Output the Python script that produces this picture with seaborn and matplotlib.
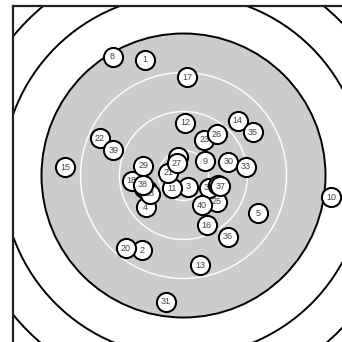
import numpy as np
import pandas as pd
import seaborn as sns
import matplotlib.pyplot as plt
from matplotlib.patches import Circle

# ring radii (same units as the shot coordinates, centre of target = 0, 0)
white_rings = [25, 64, 103]
gray_radius = 142
black_rings = [181, 220]

shot = list(range(1, 41))
shot_x = [-38.5, -41.8, 4.8, -38.0, 74.8, -40.5, -39.5, -71.0, 21.5, 147.5,
          -11.8, 1.5, 16.8, 54.2, -118.5, 23.2, 3.5, -52.0, -37.0, -57.5,
          -15.2, -83.5, 20.8, -6.0, 33.5, 33.5, -6.8, -34.0, -40.2, 44.8,
          -17.5, 25.5, 62.5, 34.5, 69.2, 44.2, 36.8, -41.0, -70.2, 18.7]
shot_y = [115.5, -74.8, -11.2, -31.7, -37.8, -10.5, -12.5, 118.8, 14.2, -21.5,
          -12.8, 52.8, -89.8, 54.8, 8.2, -49.5, 98.2, -5.0, -14.5, -72.8,
          2.8, 37.2, 35.5, 18.5, -26.2, 41.2, 12.2, -18.0, 9.5, 13.8,
          -126.2, -12.0, 8.8, -9.0, 43.2, -61.2, -10.8, -9.2, 25.2, -29.7]

df = pd.DataFrame({'shot': shot, 'x': shot_x, 'y': shot_y})

sns.set_style('white')
plt.rcParams['font.family'] = ['Liberation Sans', 'DejaVu Sans']

fig = plt.figure(figsize=(3.42, 3.42), dpi=100)
ax = fig.add_axes([13 / 342, -3 / 342, 341 / 342, 339 / 342])

# target face
for r in black_rings[::-1]:
    ax.add_patch(Circle((0, 0), r, facecolor='white', edgecolor='black', lw=1.4, zorder=1))
ax.add_patch(Circle((0, 0), gray_radius, facecolor='#cccccc', edgecolor='black', lw=1.4, zorder=1))
for r in white_rings:
    ax.add_patch(Circle((0, 0), r, facecolor='none', edgecolor='white', lw=1.0, zorder=1))

# shots, each with its label so later shots cover earlier ones
for i, row in df.iterrows():
    sns.scatterplot(x=[row['x']], y=[row['y']], s=190, color='white', edgecolor='black',
                    linewidth=1.45, ax=ax, zorder=3 + 2 * i, legend=False)
    ax.text(row['x'], row['y'], str(int(row['shot'])), ha='center', va='center',
            fontsize=6.5, color='#444444', zorder=4 + 2 * i)

ax.set_xlim(-170.5, 170.5)
ax.set_ylim(-169.5, 169.5)
ax.set_xticks([])
ax.set_yticks([])
ax.set_xlabel('')
ax.set_ylabel('')
for side in ['left', 'top']:
    ax.spines[side].set_color('#222222')
    ax.spines[side].set_linewidth(1.6)
for side in ['right', 'bottom']:
    ax.spines[side].set_visible(False)

fig.savefig('out.png', dpi=100)
